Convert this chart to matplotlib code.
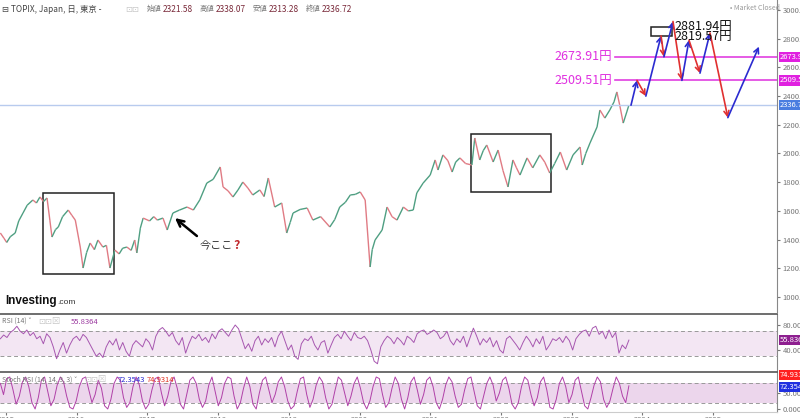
import numpy as np
import matplotlib.pyplot as plt
from matplotlib.collections import LineCollection
from matplotlib.patches import Rectangle

plt.rcParams['font.family'] = ['Noto Sans CJK JP', 'DejaVu Sans']

# TOPIX daily close (fractional year, price)
price_dates = [2014.92, 2014.97, 2015.01, 2015.06, 2015.13, 2015.18, 2015.24, 2015.30, 2015.38, 2015.43,
               2015.48, 2015.53, 2015.58, 2015.62, 2015.65, 2015.70, 2015.74, 2015.80, 2015.88, 2015.93,
               2015.98, 2016.05, 2016.09, 2016.14, 2016.19, 2016.25, 2016.30, 2016.37, 2016.42, 2016.47,
               2016.54, 2016.60, 2016.65, 2016.71, 2016.77, 2016.82, 2016.85, 2016.90, 2016.94, 2017.03,
               2017.09, 2017.14, 2017.22, 2017.28, 2017.36, 2017.45, 2017.56, 2017.65, 2017.74, 2017.84,
               2017.93, 2018.03, 2018.07, 2018.14, 2018.21, 2018.28, 2018.35, 2018.42, 2018.49, 2018.59,
               2018.65, 2018.71, 2018.80, 2018.90, 2018.97, 2019.02, 2019.06, 2019.16, 2019.26, 2019.34,
               2019.45, 2019.58, 2019.65, 2019.72, 2019.80, 2019.87, 2019.94, 2020.01, 2020.08, 2020.15,
               2020.18, 2020.22, 2020.32, 2020.39, 2020.46, 2020.53, 2020.62, 2020.69, 2020.76, 2020.81,
               2020.90, 2021.00, 2021.07, 2021.11, 2021.18, 2021.25, 2021.31, 2021.36, 2021.42, 2021.50,
               2021.59, 2021.63, 2021.70, 2021.75, 2021.80, 2021.89, 2021.96, 2022.03, 2022.10, 2022.17,
               2022.22, 2022.27, 2022.37, 2022.45, 2022.55, 2022.62, 2022.69, 2022.76, 2022.84, 2022.93,
               2023.02, 2023.12, 2023.15, 2023.20, 2023.26, 2023.36, 2023.40, 2023.47, 2023.54, 2023.60,
               2023.64, 2023.68, 2023.73, 2023.78, 2023.81]
price_close = [1446, 1410, 1380, 1420, 1446, 1530, 1585, 1640, 1676, 1655,
               1697, 1665, 1690, 1536, 1418, 1470, 1488, 1560, 1606, 1570,
               1536, 1348, 1202, 1310, 1376, 1330, 1397, 1348, 1360, 1202,
               1327, 1300, 1340, 1348, 1325, 1397, 1307, 1480, 1550, 1530,
               1560, 1536, 1550, 1467, 1585, 1605, 1627, 1606, 1676, 1794,
               1820, 1906, 1767, 1740, 1697, 1745, 1801, 1760, 1711, 1746,
               1700, 1829, 1627, 1655, 1446, 1520, 1585, 1610, 1620, 1536,
               1560, 1488, 1540, 1627, 1660, 1711, 1715, 1732, 1676, 1209,
               1330, 1397, 1467, 1627, 1560, 1536, 1627, 1600, 1606, 1725,
               1794, 1850, 1955, 1885, 1990, 1950, 1871, 1940, 1969, 1930,
               1920, 2108, 1955, 2020, 2059, 1941, 2024, 1880, 1767, 1955,
               1900, 1850, 1969, 1900, 1990, 1940, 1864, 1930, 2010, 1885,
               1990, 2045, 1920, 2000, 2073, 2185, 2303, 2247, 2303, 2360,
               2429, 2338, 2212, 2289, 2336.72]

last_close = 2336.72
levels = [2673.91, 2509.51]
targets = [2881.94, 2819.57]

# hand-drawn forecast path
proj_dates = [2023.84, 2023.925, 2024.05, 2024.265, 2024.306, 2024.434, 2024.56, 2024.66, 2024.816, 2024.957, 2025.21, 2025.65]
proj_prices = [2336.72, 2509.51, 2400, 2819.57, 2673.91, 2920, 2509.51, 2790, 2560, 2840, 2250, 2745]

# highlighted ranges: (date0, date1, price0, price1)
boxes = [(2015.52, 2016.53, 1160, 1725), (2021.58, 2022.71, 1732, 2136), (2024.12, 2024.42, 2819.57, 2881.94)]

# "今ここ" pointer
here_tip = (2017.39, 1550)
here_tail = (2017.70, 1425)

rsi = [58, 64, 60, 68, 72, 78, 70, 66, 72, 63, 68, 58, 62, 50, 66, 60, 45, 26, 40, 52, 35, 48,
       58, 62, 55, 65, 60, 50,
       40, 30, 35, 28, 45, 55, 48, 58, 40, 52, 38, 30, 48, 55, 50, 45, 58, 52, 40, 62,
       72, 76, 70,
       62, 68, 55, 48, 60, 35, 50, 62, 58, 65, 55, 60, 52, 66, 58, 70, 74, 68, 62, 72,
       80, 74, 58, 42, 50, 38, 55, 62, 48, 58, 52, 60, 45, 62, 70, 55, 40, 48, 30, 25,
       50, 58, 55, 62, 48, 40, 52, 55, 35, 48, 60, 65, 58, 70, 62, 55, 68, 60, 58, 62,
       55, 40, 22, 18, 45, 55, 62, 58, 50, 60, 55, 48, 62, 58, 52, 66, 70, 72, 65, 68,
       72, 68, 58, 62, 70, 55, 48, 58, 52, 62, 45, 60, 75, 62, 48, 58, 52, 60, 45, 55,
       40, 35, 58, 62, 55, 48, 40, 52, 62, 55, 45, 58, 50, 62, 40, 48, 58, 55, 60, 52,
       62, 55, 40, 58, 65, 70, 72, 62, 75, 78, 65, 70, 58, 72, 60, 68, 35, 48, 42, 55.84]

stoch_k = [80, 45, 95, 100, 60, 15, 40, 85, 100, 70, 20, 0, 35, 90, 100, 55, 10, 30, 75, 100,
           85, 40, 5, 0, 25, 70, 95, 100, 60, 20, 45, 90, 65, 10, 0, 30, 80, 100, 90, 35,
           5, 20, 70, 100, 75, 25, 0, 15, 60, 95, 100, 50, 10, 40, 85, 100, 65, 15, 0, 45,
           90, 100, 80, 30, 5, 25, 75, 100, 55, 10, 35, 80, 100, 95, 40, 0, 20, 65, 100, 70,
           15, 0, 50, 90, 100, 60, 20, 45, 85, 100, 70, 25, 0, 10, 55, 95, 100, 45, 5, 30,
           75, 100, 85, 35, 0, 15, 60, 100, 90, 50, 10, 40, 80, 100, 65, 20, 0, 25, 70, 100,
           95, 45, 5, 20, 65, 100, 80, 30, 0, 35, 85, 100, 60, 15, 45, 90, 100, 70, 20, 0,
           30, 75, 100, 85, 40, 5, 15, 60, 95, 100, 55, 10, 0, 40, 80, 100, 75, 25, 50, 90,
           100, 65, 15, 0, 20, 70, 100, 90, 45, 10, 35, 85, 100, 60, 5, 0, 30, 80, 100, 70,
           20, 45, 90, 100, 55, 10, 0, 35, 75, 100, 85, 30, 5, 25, 65, 100, 80, 40, 20, 72.35]

years = list(range(2015, 2026))

W, H = 800, 418
XMIN, XMAX = 2014.915, 2025.905
fig = plt.figure(figsize=(8, 4.18), dpi=100, facecolor='white')


def fx(px):
    return px / W


def fy(px):
    return 1 - px / H


ax = fig.add_axes([0, fy(312), 777 / W, 312 / H])
ax_rsi = fig.add_axes([0, fy(371), 777 / W, 57 / H], sharex=ax)
ax_st = fig.add_axes([0, fy(412), 777 / W, 40 / H], sharex=ax)

for a in (ax, ax_rsi, ax_st):
    a.yaxis.tick_right()
    a.tick_params(axis='y', labelsize=5.5, colors='#777777', length=2, pad=2)
    for s in ['left', 'top', 'bottom']:
        a.spines[s].set_visible(False)
    a.spines['right'].set_color('#888888')
    a.spines['right'].set_linewidth(0.8)
ax.tick_params(axis='x', bottom=False, labelbottom=False)
ax_rsi.tick_params(axis='x', bottom=False, labelbottom=False)
for a in (ax_rsi, ax_st):
    a.spines['top'].set_visible(True)
    a.spines['top'].set_color('#555555')
    a.spines['top'].set_linewidth(1.2)

# main price panel
ax.set_xlim(XMIN, XMAX)
ax.set_ylim(895.4, 3069.7)
pts = np.column_stack([price_dates, price_close])
segs = np.stack([pts[:-1], pts[1:]], axis=1)
cols = ['#4f9f82' if b >= a else '#e07b84' for a, b in zip(price_close[:-1], price_close[1:])]
ax.add_collection(LineCollection(segs, colors=cols, linewidths=1.0))

ax.axhline(last_close, color='#b8cbee', lw=1)
ax.set_yticks(np.arange(1000, 3001, 200))
ax.set_yticklabels([f'{v:.2f}' for v in np.arange(1000, 3001, 200)])

for lv in levels:
    ax.plot([2023.61, XMAX], [lv, lv], color='#e040e0', lw=1.2)
    ax.text(2023.57, lv, f'{lv:.2f}円', ha='right', va='center', color='#e030e0', fontsize=9)
    ax.text(1.004, lv, f'{lv:.2f}', transform=ax.get_yaxis_transform(), fontsize=5.5, color='white',
            va='center', ha='left', clip_on=False,
            bbox=dict(boxstyle='square,pad=0.15', fc='#e020e0', ec='none'))
ax.text(1.004, last_close, f'{last_close:.2f}', transform=ax.get_yaxis_transform(), fontsize=5.5,
        color='white', va='center', ha='left', clip_on=False,
        bbox=dict(boxstyle='square,pad=0.15', fc='#4a7de0', ec='none'))

for x0, x1, y0, y1 in boxes:
    ax.add_patch(Rectangle((x0, y0), x1 - x0, y1 - y0, fill=False, ec='#222222', lw=1.1))

for i in range(len(proj_dates) - 1):
    up = proj_prices[i + 1] > proj_prices[i]
    ax.annotate('', xy=(proj_dates[i + 1], proj_prices[i + 1]), xytext=(proj_dates[i], proj_prices[i]),
                arrowprops=dict(arrowstyle='->', color='#2b2bd0' if up else '#e03030', lw=1.2,
                                mutation_scale=9, shrinkA=0, shrinkB=0))

ax.text(2024.46, 2888, f'{targets[0]:.2f}円', ha='left', va='center', fontsize=9, color='#111111')
ax.text(2024.46, 2812, f'{targets[1]:.2f}円', ha='left', va='center', fontsize=9, color='#111111')

ax.annotate('', xy=here_tip, xytext=here_tail,
            arrowprops=dict(arrowstyle='->', color='black', lw=1.8, mutation_scale=12, shrinkA=0, shrinkB=0))
ax.text(2017.74, 1362, '今ここ', ha='left', va='center', fontsize=8, color='#333333')
ax.text(2018.215, 1362, '?', ha='left', va='center', fontsize=9, color='#c0282c', weight='bold')

# RSI panel
ax_rsi.set_ylim(6.4, 97.6)
ax_rsi.axhspan(30, 70, color='#f3e6f3', lw=0)
for lv in (30, 70):
    ax_rsi.axhline(lv, color='#999999', lw=0.7, ls=(0, (4, 3)))
ax_rsi.plot(np.linspace(2014.92, 2023.81, len(rsi)), rsi, color='#a757b0', lw=0.7)
ax_rsi.set_yticks([40, 80])
ax_rsi.set_yticklabels(['40.0000', '80.0000'])
ax_rsi.text(1.004, rsi[-1], '55.8364', transform=ax_rsi.get_yaxis_transform(), fontsize=5.5, color='white',
            va='center', ha='left', clip_on=False,
            bbox=dict(boxstyle='square,pad=0.15', fc='#8e1f90', ec='none'))

# Stoch RSI panel
ax_st.set_ylim(-9.4, 115.6)
ax_st.axhspan(20, 80, color='#ecd6ec', lw=0)
for lv in (20, 80):
    ax_st.axhline(lv, color='#999999', lw=0.7, ls=(0, (4, 3)))
ax_st.plot(np.linspace(2014.92, 2023.81, len(stoch_k)), stoch_k, color='#b040a8', lw=0.7)
ax_st.set_yticks([0, 50])
ax_st.set_yticklabels(['0.0000', '50.0000'])
ax_st.set_xticks(years)
ax_st.set_xticklabels([str(y) for y in years])
ax_st.tick_params(axis='x', labelsize=5.5, colors='#777777', length=2, pad=1)
ax_st.spines['bottom'].set_visible(True)
ax_st.spines['bottom'].set_color('#cccccc')
ax_st.annotate('74.9314', xy=(1.004, 74.93), xycoords=ax_st.get_yaxis_transform(), xytext=(0, 7),
               textcoords='offset points', fontsize=5.5, color='white', va='center', ha='left',
               annotation_clip=False, bbox=dict(boxstyle='square,pad=0.15', fc='#ff2020', ec='none'))
ax_st.annotate('72.3543', xy=(1.004, 72.35), xycoords=ax_st.get_yaxis_transform(), xytext=(0, -1),
               textcoords='offset points', fontsize=5.5, color='white', va='center', ha='left',
               annotation_clip=False, bbox=dict(boxstyle='square,pad=0.15', fc='#2030e0', ec='none'))

# header texts
fig.text(fx(2), fy(9), '⊟ TOPIX, Japan, 日, 東京 -', fontsize=6, color='#444444', va='center')
fig.text(fx(125), fy(9), '⊡⊡', fontsize=6, color='#c8c8c8', va='center')
ohlc_labels = ['始値', '高値', '安値', '終値']
ohlc_values = ['2321.58', '2338.07', '2313.28', '2336.72']
for i, (lab, val) in enumerate(zip(ohlc_labels, ohlc_values)):
    x0 = 147 + i * 53
    fig.text(fx(x0), fy(9), lab, fontsize=5.3, color='#777777', va='center')
    fig.text(fx(x0 + 16), fy(9), val, fontsize=6, color='#7a2a3a', va='center')
fig.text(fx(730), fy(8), '• Market Closed', fontsize=5, color='#999999', va='center')

fig.text(fx(5), fy(304), 'Investing', fontsize=8.5, weight='bold', family='Liberation Sans', color='#111111')
fig.text(fx(57), fy(304), '.com', fontsize=6, family='Liberation Sans', color='#333333')

fig.text(fx(2), fy(322), 'RSI (14) ˅', fontsize=5, color='#777777', va='center')
fig.text(fx(38), fy(322), '⊡⊡⊠', fontsize=6, color='#c8c8c8', va='center')
fig.text(fx(71), fy(322), '55.8364', fontsize=5.5, color='#9c3aa0', va='center')
fig.text(fx(2), fy(380), 'Stoch RSI (14, 14, 3, 3) ˅', fontsize=5, color='#777777', va='center')
fig.text(fx(84), fy(380), '⊡⊡⊠', fontsize=6, color='#c8c8c8', va='center')
fig.text(fx(118), fy(380), '72.3543', fontsize=5.5, color='#2a2ad0', va='center')
fig.text(fx(147), fy(380), '74.9314', fontsize=5.5, color='#e03020', va='center')

fig.savefig('out.png', dpi=100, facecolor='white')
